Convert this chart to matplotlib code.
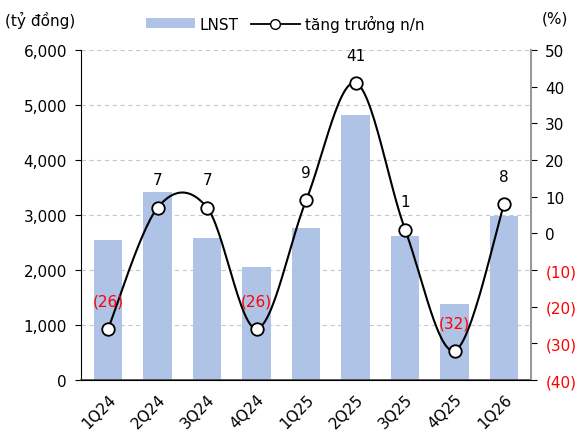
import numpy as np
import matplotlib.pyplot as plt
from matplotlib.lines import Line2D
from matplotlib.patches import Patch

# Data
quarters = ['1Q24', '2Q24', '3Q24', '4Q24', '1Q25', '2Q25', '3Q25', '4Q25', '1Q26']
lnst = [2550, 3420, 2580, 2050, 2770, 4810, 2620, 1390, 2990]
growth = [-26, 7, 7, -26, 9, 41, 1, -32, 8]

plt.rcParams['font.family'] = ['DejaVu Sans']

fig = plt.figure(figsize=(5.82, 4.39), dpi=100)
ax = fig.add_axes([0.139, 0.132, 0.774, 0.752])
ax2 = ax.twinx()

x = np.arange(len(quarters))
ax.bar(x, lnst, width=0.58, color='#AEC3E5', zorder=2)
ax.set_xlim(-0.55, len(quarters) - 0.45)
ax.set_ylim(0, 6000)
ax.set_yticks(range(0, 6001, 1000))
ax.set_yticklabels(['{:,}'.format(v) for v in range(0, 6001, 1000)], fontsize=11)
ax.yaxis.grid(True, linestyle=(0, (4, 3)), color='#C8C8C8', linewidth=0.8, zorder=0)
ax.set_axisbelow(True)
ax.set_xticks(x)
ax.set_xticklabels(quarters, rotation=45, ha='right', rotation_mode='anchor', fontsize=11)
ax.tick_params(axis='x', length=0, pad=8)
ax.tick_params(axis='y', length=4, direction='out', pad=6)

# smooth line (Catmull-Rom style like Excel smoothing)
def smooth(xs, ys, n=30):
    px = np.concatenate([[xs[0]], xs, [xs[-1]]])
    py = np.concatenate([[ys[0]], ys, [ys[-1]]])
    out_x, out_y = [], []
    for i in range(1, len(px) - 2):
        t = np.linspace(0, 1, n)
        p0, p1, p2, p3 = (np.array([px[j], py[j]]) for j in (i - 1, i, i + 1, i + 2))
        c1 = p1 + (p2 - p0) / 6
        c2 = p2 - (p3 - p1) / 6
        b = ((1 - t) ** 3)[:, None] * p1 + (3 * (1 - t) ** 2 * t)[:, None] * c1 \
            + (3 * (1 - t) * t ** 2)[:, None] * c2 + (t ** 3)[:, None] * p2
        out_x.extend(b[:, 0])
        out_y.extend(b[:, 1])
    return out_x, out_y

sx, sy = smooth(x.astype(float), np.array(growth, dtype=float))
ax2.plot(sx, sy, color='black', linewidth=1.5, zorder=3)
ax2.plot(x, growth, 'o', markersize=9, markerfacecolor='white', markeredgecolor='black',
         markeredgewidth=1.3, zorder=4)
ax2.set_ylim(-40, 50)
ax2.set_yticks(range(-40, 51, 10))
labels = []
for v in range(-40, 51, 10):
    labels.append('({})'.format(-v) if v < 0 else str(v))
ax2.set_yticklabels(labels, fontsize=11)
for lbl, v in zip(ax2.get_yticklabels(), range(-40, 51, 10)):
    if v < 0:
        lbl.set_color('red')
ax2.tick_params(axis='y', length=4, direction='out', pad=6)

for xi, g in zip(x, growth):
    if g < 0:
        ax2.text(xi, g + 5.5, '({})'.format(-g), color='red', ha='center', va='bottom', fontsize=11)
    else:
        ax2.text(xi, g + 5.5, str(g), color='black', ha='center', va='bottom', fontsize=11)

for a in (ax, ax2):
    a.spines['top'].set_visible(False)
ax.spines['left'].set_color('black')
ax2.spines['left'].set_visible(False)
ax.spines['right'].set_visible(False)
ax2.spines['right'].set_color('#999999')
ax2.spines['right'].set_linewidth(1.5)
ax.spines['bottom'].set_color('#444444')
ax.spines['bottom'].set_linewidth(1.2)

fig.text(0.008, 0.953, '(tỷ đồng)', fontsize=11, va='center')
fig.text(0.93, 0.956, '(%)', fontsize=11, va='center')

handles = [Patch(facecolor='#AEC3E5', label='LNST'),
           Line2D([0], [0], color='black', marker='o', markerfacecolor='white', markersize=7,
                  linewidth=1.3, label='tăng trưởng n/n')]
fig.legend(handles=handles, loc='center', bbox_to_anchor=(0.49, 0.945), ncol=2, frameon=False,
           fontsize=11, handlelength=3.2, handleheight=0.6, columnspacing=0.8, handletextpad=0.3)

fig.savefig('out.png', dpi=100)
